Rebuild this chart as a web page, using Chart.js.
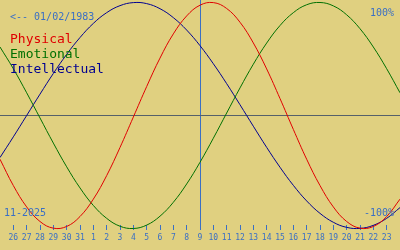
<!DOCTYPE html>
<html lang="en">
<head>
<meta charset="UTF-8">
<title>Biorhythm</title>
<script src="https://cdn.jsdelivr.net/npm/chart.js"></script>
<style>
  body {
    margin: 0;
    padding: 0;
    background: #e0d080;
  }
  .wrap {
    position: relative;
    width: 400px;
    height: 250px;
    background: #e0d080;
    font-family: "DejaVu Sans Mono", monospace;
  }
  .txt {
    position: absolute;
    line-height: 1;
    white-space: pre;
  }
  .small { font-size: 10px; color: #3a6fc4; }
  .big { font-size: 13px; }
</style>
</head>
<body>
<div class="wrap">
  <canvas id="bio" width="400" height="250"></canvas>
  <div class="txt small" style="left:10px; top:11.5px;">&lt;-- 01/02/1983</div>
  <div class="txt big" style="left:10px; top:31.5px; color:#e00000;">Physical</div>
  <div class="txt big" style="left:10px; top:46.5px; color:#007000;">Emotional</div>
  <div class="txt big" style="left:10px; top:61.5px; color:#000090;">Intellectual</div>
  <div class="txt small" style="right:6px; top:7.5px;">100%</div>
  <div class="txt small" style="right:6px; top:207.5px;">-100%</div>
  <div class="txt small" style="left:4px; top:207.5px;">11-2025</div>
</div>
<script>
  // days shown on the axis (first and last are the chart edges, no tick)
  const days = ['25','26','27','28','29','30','31','1','2','3','4','5','6','7','8',
                '9','10','11','12','13','14','15','16','17','18','19','20','21','22','23','24'];
  const todayIndex = 15; // the 9th

  // values in percent, one per day
  const physical = [-38.7, -62.0, -80.9, -93.8, -99.7, -98.2, -89.4, -74.0, -53.2, -28.3,
                    -1.4, 25.6, 50.8, 72.2, 88.1, 97.6, 99.9, 94.7, 82.5, 64.2,
                    41.2, 15.0, -12.3, -38.7, -62.0, -80.9, -93.8, -99.7, -98.2, -89.4, -74.0];
  const emotional = [60.6, 41.4, 20.1, -2.2, -24.4, -45.4, -64.1, -79.6, -91.0, -98.0,
                     -100.0, -97.0, -89.1, -76.8, -60.6, -41.4, -20.1, 2.2, 24.4, 45.4,
                     64.1, 79.6, 91.0, 98.0, 100.0, 97.0, 89.1, 76.8, 60.6, 41.4, 20.1];
  const intellectual = [-37.2, -18.9, 0.0, 18.9, 37.2, 54.1, 69.0, 81.5, 91.0, 97.2,
                        99.9, 99.0, 94.5, 86.6, 75.6, 61.8, 45.8, 28.2, 9.5, -9.5,
                        -28.2, -45.8, -61.8, -75.6, -86.6, -94.5, -99.0, -99.9, -97.2, -91.0, -81.5];

  const blue = '#3a6fc4';
  const zeroColor = '#55606a';

  function line(label, data, color) {
      return {
          label: label,
          data: data,
          borderColor: color,
          borderWidth: 1,
          pointRadius: 0,
          fill: false,
          tension: 0.4,
          clip: false
      };
  }

  var ctx = document.getElementById('bio').getContext('2d');
  var chart = new Chart(ctx, {
      type: 'line',
      data: {
          labels: days,
          datasets: [
              line('Physical', physical, '#e00000'),
              line('Emotional', emotional, '#007000'),
              line('Intellectual', intellectual, '#000090')
          ]
      },
      options: {
          responsive: false,
          animation: false,
          devicePixelRatio: 1,
          layout: { padding: 0 },
          plugins: {
              legend: { display: false },
              tooltip: { enabled: false }
          },
          scales: {
              x: {
                  type: 'category',
                  offset: false,
                  border: { display: false },
                  grid: {
                      color: c => c.index === todayIndex ? blue : 'transparent',
                      tickColor: c => (c.index === 0 || c.index === days.length - 1) ? 'transparent' : blue,
                      tickLength: 5,
                      lineWidth: 1
                  },
                  ticks: {
                      color: blue,
                      font: { family: 'DejaVu Sans Mono', size: 8 },
                      autoSkip: false,
                      maxRotation: 0,
                      padding: 3,
                      callback: (v, i) => (i === 0 || i === days.length - 1) ? '' : days[i]
                  },
                  afterFit: s => {
                      s.height = 25;
                      s.paddingLeft = 0;
                      s.paddingRight = 0;
                  }
              },
              y: {
                  min: -96.9,
                  max: 102.2,
                  border: { display: false },
                  grid: { color: zeroColor, drawTicks: false, lineWidth: 1 },
                  ticks: { display: false },
                  afterBuildTicks: s => { s.ticks = [{ value: 0 }]; },
                  afterFit: s => {
                      s.width = 0;
                      s.paddingTop = 0;
                      s.paddingBottom = 0;
                  }
              }
          }
      }
  });
</script>
</body>
</html>
